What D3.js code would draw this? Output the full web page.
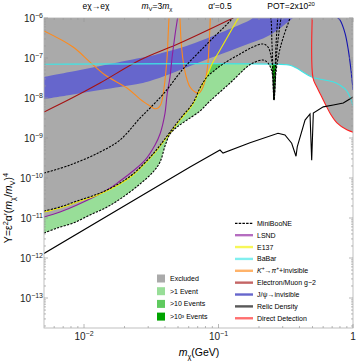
<!DOCTYPE html>
<html>
<head>
<meta charset="utf-8">
<script src="https://cdn.jsdelivr.net/npm/d3@7"></script>
<style>
body { margin: 0; background: #fff; }
svg { display: block; font-family: "Liberation Sans", Arial, sans-serif; }
</style>
</head>
<body>
<svg id="chart" width="357" height="361"></svg>
<script>
// every curve is a list of [m_chi (GeV), Y]
var relicDensity = [[0.00504, 1.3e-12], [0.0614, 1.88e-10], [0.1026, 5.0e-10], [0.108, 4.2e-10], [0.1715, 7.6e-10],
    [0.277, 1.31e-9], [0.312, 1.19e-9], [0.350, 7.4e-10], [0.377, 3.5e-10], [0.385, 6.0e-10], [0.44, 2.8e-9],
    [0.479, 4.0e-9], [0.493, 2.8e-10], [0.507, 4.2e-9], [0.601, 6.0e-9], [0.714, 6.7e-9], [0.847, 7.5e-9], [1.0, 1.06e-8]];
var directDetection = [[0.503, 3e-6], [0.504, 3.2e-8], [0.537, 1.9e-8], [0.585, 1.08e-8], [0.63, 6.5e-9],
    [0.68, 4.0e-9], [0.76, 2.4e-9], [0.90, 1.6e-9], [1.0, 1.4e-9]];
var babar = [[0.00504, 7.0e-8], [0.27, 7.0e-8], [0.34, 6.6e-8], [0.38, 5.6e-8], [0.50, 3.3e-8], [0.71, 2.55e-8],
    [0.80, 2.1e-8], [0.90, 1.5e-8], [1.0, 6.5e-9]];
var lsnd = [[0.00504, 1.06e-11], [0.00663, 1.41e-11], [0.00887, 2.11e-11], [0.01483, 5.0e-11], [0.01852, 8.4e-11],
    [0.02314, 1.5e-10], [0.02842, 2.8e-10], [0.03373, 6.7e-10], [0.03673, 1.26e-9], [0.04002, 4.2e-9],
    [0.04142, 1.19e-8], [0.04359, 3.35e-8], [0.04511, 1.0e-7], [0.0475, 3.8e-7], [0.05, 1.2e-6], [0.0517, 2.8e-6]];
var e137 = [[0.00504, 1.41e-11], [0.00663, 1.78e-11], [0.00887, 2.51e-11], [0.01315, 3.98e-11], [0.01852, 7.1e-11],
    [0.02314, 1.19e-10], [0.03258, 3.76e-10], [0.04142, 1.06e-9], [0.05174, 2.82e-9], [0.0646, 7.1e-9],
    [0.0729, 1.68e-8], [0.0821, 3.55e-8], [0.0895, 7.1e-8], [0.1026, 1.58e-7], [0.1177, 3.55e-7],
    [0.1349, 7.9e-7], [0.1445, 1.19e-6], [0.16, 3e-6]];
var kaon = [[0.00504, 4.73e-7], [0.00829, 1.88e-7], [0.01108, 7.9e-8], [0.01433, 3.76e-8], [0.02088, 1.78e-8],
    [0.02609, 9.4e-9], [0.03096, 6.3e-9], [0.03315, 5.46e-9], [0.03549, 5.6e-9], [0.03737, 7.1e-9],
    [0.03867, 1.19e-8], [0.04002, 2.82e-8], [0.04142, 1.0e-7], [0.04213, 3.16e-7], [0.04285, 1.0e-6],
    [0.04359, 2.1e-6], [0.05085, 2.1e-6], [0.05174, 8.9e-7], [0.05263, 2.82e-7], [0.05445, 8.9e-8],
    [0.05734, 3.55e-8], [0.0614, 1.88e-8], [0.06688, 1.41e-8], [0.07161, 1.33e-8], [0.0767, 1.88e-8],
    [0.0807, 3.35e-8], [0.08356, 7.9e-8], [0.085, 2.11e-7], [0.08647, 6.7e-7], [0.08721, 2.1e-6]];
var g2Line = [[0.00504, 4.47e-9], [0.00787, 9.4e-9], [0.01315, 2.37e-8], [0.02609, 8.9e-8], [0.05174, 2.37e-7],
    [0.1282, 1.0e-6], [0.1574, 1.41e-6]];
var jpsi = [[0.7222, 1.58e-6], [0.7603, 1.06e-6], [0.8004, 8.9e-7], [0.8719, 4.2e-7], [0.9229, 1.58e-7],
    [0.9661, 5.0e-8], [1.0, 1.58e-8]];
var g2BandUpper = [[0.00504, 3.35e-8], [0.00934, 5.0e-8], [0.01561, 7.1e-8], [0.02609, 1.0e-7], [0.03096, 1.12e-7],
    [0.03673, 1.3e-7], [0.05174, 1.78e-7], [0.07288, 2.66e-7], [0.1118, 4.73e-7], [0.1715, 8.9e-7], [0.190, 1.12e-6]];
var g2BandLower = [[0.00504, 9.4e-9], [0.00787, 1.19e-8], [0.01315, 1.58e-8], [0.02609, 2.3e-8], [0.03096, 2.66e-8],
    [0.04359, 3.98e-8], [0.07288, 7.9e-8], [0.1445, 1.88e-7], [0.2415, 3.76e-7], [0.358, 1.0e-6], [0.3834, 1.19e-6]];
var mbOneEvent = [[0.00504, 4.2e-12], [0.0063, 5.6e-12], [0.00829, 7.5e-12], [0.01108, 1.19e-11], [0.01483, 1.88e-11],
    [0.0195, 3.35e-11], [0.02609, 7.1e-11], [0.03258, 1.41e-10], [0.03673, 2.51e-10], [0.04002, 6.3e-10],
    [0.04359, 1.26e-9], [0.04915, 1.88e-9], [0.05832, 2.82e-9], [0.07288, 4.73e-9], [0.08647, 8.4e-9],
    [0.1218, 2.37e-8], [0.1629, 6.0e-8], [0.1805, 7.5e-8], [0.2143, 8.9e-8], [0.2333, 7.5e-8], [0.2499, 4.47e-8],
    [0.2586, 8.9e-9], [0.2676, 4.47e-8], [0.2818, 1.33e-7], [0.3018, 3.16e-7], [0.3402, 1.0e-6], [0.3519, 1.41e-6]];
var mbTenEvents = [[0.00504, 1.5e-11], [0.00663, 1.88e-11], [0.00887, 2.66e-11], [0.01315, 4.2e-11], [0.01852, 7.5e-11],
    [0.02314, 1.26e-10], [0.03258, 3.98e-10], [0.04142, 1.12e-9], [0.05174, 2.99e-9], [0.06463, 7.5e-9],
    [0.07288, 1.78e-8], [0.08213, 3.35e-8], [0.0942, 5.0e-8], [0.108, 7.1e-8], [0.1445, 1.26e-7], [0.1805, 1.88e-7],
    [0.2143, 2.24e-7], [0.2333, 1.88e-7], [0.2499, 7.9e-8], [0.2586, 8.9e-9], [0.2676, 7.9e-8], [0.277, 2.82e-7],
    [0.2915, 1.0e-6], [0.3018, 1.78e-6]];
var mbThousandEvents = [[0.00504, 1.33e-10], [0.00787, 2.11e-10], [0.01315, 4.47e-10], [0.01852, 8.9e-10],
    [0.02609, 3.16e-9], [0.03096, 5.6e-9], [0.04002, 1.41e-8], [0.05445, 5.3e-8], [0.08213, 2.24e-7],
    [0.1218, 8.4e-7], [0.1349, 1.26e-6], [0.1715, 2.5e-6], [0.2179, 2.5e-6], [0.2415, 1.26e-6], [0.2499, 2.11e-7],
    [0.2586, 8.9e-9], [0.2676, 2.11e-7], [0.277, 1.26e-6]];

var xMajor = [0.01, 0.1, 1];
var xLabels = [-2, -1, 0];
var yMajor = [1e-6, 1e-7, 1e-8, 1e-9, 1e-10, 1e-11, 1e-12, 1e-13];
var yLabels = [6, 7, 8, 9, 10, 11, 12, 13];

var regionNames = ["Excluded", ">1 Event", ">10 Events", ">10\u00B3 Events"];
var regionColors = ["#aaaaaa", "#98de98", "#5fca5f", "#00a300"];
var lineNames = ["MiniBooNE", "LSND", "E137", "BaBar", "K+", "Electron/Muon g\u22122", "J/\u03C8\u2192invisible",
    "Relic Density", "Direct Detection"];
var lineColors = ["#000000", "#8e1f9e", "#f2f200", "#3de6e6", "#ff8a1a", "#a51212", "#1414b0", "#000000", "#ff2222"];

(function () {
    var svg = d3.select("#chart");
    var pl = 44, pr = 353, pt = 18, pb = 328;
    var x = d3.scaleLog().domain([0.00504, 1]).range([pl, pr]);
    var y = d3.scaleLog().domain([1e-6, 1.78e-14]).range([pt, pb]);
    var smooth = d3.curveCatmullRom.alpha(0.5);

    svg.append("clipPath").attr("id", "plotclip")
        .append("rect").attr("x", pl).attr("y", pt).attr("width", pr - pl).attr("height", pb - pt);

    var g = svg.append("g").attr("clip-path", "url(#plotclip)");
    g.append("rect").attr("x", pl).attr("y", pt).attr("width", pr - pl).attr("height", pb - pt)
        .attr("fill", "#fff");

    // region above a curve (up to the top of the frame)
    var above = d3.area()
        .x(function (d) { return x(d[0]); })
        .y0(0)
        .y1(function (d) { return y(d[1]); })
        .curve(smooth);
    var line = d3.line()
        .x(function (d) { return x(d[0]); })
        .y(function (d) { return y(d[1]); })
        .curve(smooth);

    [mbOneEvent, mbTenEvents, mbThousandEvents].forEach(function (c, i) {
        g.append("path").attr("d", above(c)).attr("fill", regionColors[i + 1]);
    });
    [lsnd, e137, babar, directDetection].forEach(function (c) {
        g.append("path").attr("d", above(c)).attr("fill", regionColors[0]);
    });

    // g-2 favoured band
    g.append("path")
        .attr("d", line(g2BandUpper.concat(g2BandLower.slice().reverse())) + "Z")
        .attr("fill", "#6666cc");

    var curves = [
        [kaon, lineColors[4]], [g2Line, lineColors[5]], [jpsi, lineColors[6]], [babar, lineColors[3]],
        [lsnd, lineColors[1]], [e137, lineColors[2]], [directDetection, lineColors[8]]
    ];
    curves.forEach(function (c) {
        g.append("path").attr("d", line(c[0])).attr("fill", "none").attr("stroke", c[1]).attr("stroke-width", 1.1);
    });
    g.append("path")
        .attr("d", d3.line().x(function (d) { return x(d[0]); }).y(function (d) { return y(d[1]); })(relicDensity))
        .attr("fill", "none").attr("stroke", "#000").attr("stroke-width", 1.1);
    [mbOneEvent, mbTenEvents, mbThousandEvents].forEach(function (c) {
        g.append("path").attr("d", line(c)).attr("fill", "none").attr("stroke", "#000")
            .attr("stroke-width", 1.1).attr("stroke-dasharray", "2.2,1.3");
    });

    // frame and ticks
    svg.append("rect").attr("x", pl).attr("y", pt).attr("width", pr - pl).attr("height", pb - pt)
        .attr("fill", "none").attr("stroke", "#b0b0b0").attr("stroke-width", 0.8);
    var ticks = svg.append("g").attr("stroke", "#999").attr("stroke-width", 0.7);
    var xMinor = [], yMinor = [];
    [0.001, 0.01, 0.1].forEach(function (b) {
        d3.range(2, 10).forEach(function (k) { if (b * k > 0.00504) xMinor.push(b * k); });
    });
    yMajor.concat([1e-14]).forEach(function (b) {
        d3.range(2, 10).forEach(function (k) { if (b * k < 1e-6 && b * k > 1.78e-14) yMinor.push(b * k); });
    });
    xMajor.concat(xMinor).forEach(function (v, i) {
        var len = i < xMajor.length ? 4 : 2;
        ticks.append("line").attr("x1", x(v)).attr("x2", x(v)).attr("y1", pb).attr("y2", pb - len);
        ticks.append("line").attr("x1", x(v)).attr("x2", x(v)).attr("y1", pt).attr("y2", pt + len);
    });
    yMajor.concat(yMinor).forEach(function (v, i) {
        var len = i < yMajor.length ? 4 : 2;
        ticks.append("line").attr("y1", y(v)).attr("y2", y(v)).attr("x1", pl).attr("x2", pl + len);
        ticks.append("line").attr("y1", y(v)).attr("y2", y(v)).attr("x1", pr).attr("x2", pr - len);
    });

    function rich(sel, parts, size) {
        var shift = 0;
        parts.forEach(function (p) {
            var target = p[1] === "sup" ? -0.4 * size : p[1] === "sub" ? 0.25 * size : 0;
            var t = sel.append("tspan").text(p[0]).attr("dy", target - shift);
            shift = target;
            if (p[1] === "sup" || p[1] === "sub") t.attr("font-size", size * 0.7);
            if (p[1] === "it") t.attr("font-style", "italic");
        });
    }

    xMajor.forEach(function (v, i) {
        var t = svg.append("text").attr("x", x(v)).attr("y", 340).attr("text-anchor", "middle")
            .attr("font-size", 10).attr("fill", "#222");
        if (xLabels[i] === 0) t.text("1");
        else rich(t, [["10", ""], ["\u2212" + (-xLabels[i]), "sup"]], 10);
    });
    yMajor.forEach(function (v, i) {
        var t = svg.append("text").attr("x", 43).attr("y", y(v) + 4).attr("text-anchor", "end")
            .attr("font-size", 10).attr("fill", "#222");
        rich(t, [["10", ""], ["\u2212" + yLabels[i], "sup"]], 10);
    });

    // axis titles
    rich(svg.append("text").attr("x", 199).attr("y", 356).attr("text-anchor", "middle").attr("font-size", 10.5),
        [["m", "it"], ["\u03C7", "sub"], ["(GeV)", ""]], 10.5);
    rich(svg.append("text").attr("transform", "translate(12,208) rotate(-90)").attr("text-anchor", "middle")
        .attr("font-size", 10.5),
        [["Y=\u03B5", ""], ["2", "sup"], ["\u03B1\u2032(", ""], ["m", "it"], ["\u03C7", "sub"], ["/", ""], ["m", "it"],
            ["V", "sub"], [")", ""], ["4", "sup"]], 10.5);

    // header annotations
    var head = svg.append("g").attr("font-size", 8.5).attr("text-anchor", "middle");
    rich(head.append("text").attr("x", 96).attr("y", 9), [["e\u03C7\u2192e\u03C7", ""]], 8.5);
    rich(head.append("text").attr("x", 157).attr("y", 9),
        [["m", "it"], ["V", "sub"], ["=3", ""], ["m", "it"], ["\u03C7", "sub"]], 8.5);
    rich(head.append("text").attr("x", 220).attr("y", 9), [["\u03B1\u2032=0.5", ""]], 8.5);
    rich(head.append("text").attr("x", 291).attr("y", 9), [["POT=2x10", ""], ["20", "sup"]], 8.5);

    // legends
    var regLeg = svg.append("g").attr("font-size", 7);
    regionNames.forEach(function (n, i) {
        var cy = 278.5 + i * 12.7;
        regLeg.append("rect").attr("x", 157).attr("y", cy - 4).attr("width", 8).attr("height", 8)
            .attr("fill", regionColors[i]);
        regLeg.append("text").attr("x", 170).attr("y", cy + 2.5).text(n);
    });

    var lineLeg = svg.append("g").attr("font-size", 7);
    lineNames.forEach(function (n, i) {
        var cy = 223.3 + i * 11.87;
        var l = lineLeg.append("line").attr("x1", 235).attr("x2", 253).attr("y1", cy).attr("y2", cy)
            .attr("stroke", lineColors[i]);
        if (i === 0) l.attr("stroke-width", 1.2).attr("stroke-dasharray", "2.5,1.2");
        else l.attr("stroke-width", 2.4).attr("stroke-opacity", 0.65);
        var t = lineLeg.append("text").attr("x", 257).attr("y", cy + 2.5);
        if (n === "K+") rich(t, [["K", "it"], ["+", "sup"], ["\u2192", ""], ["\u03C0", "it"], ["+", "sup"], ["+invisible", ""]], 7);
        else t.text(n);
    });
})();
</script>
</body>
</html>
